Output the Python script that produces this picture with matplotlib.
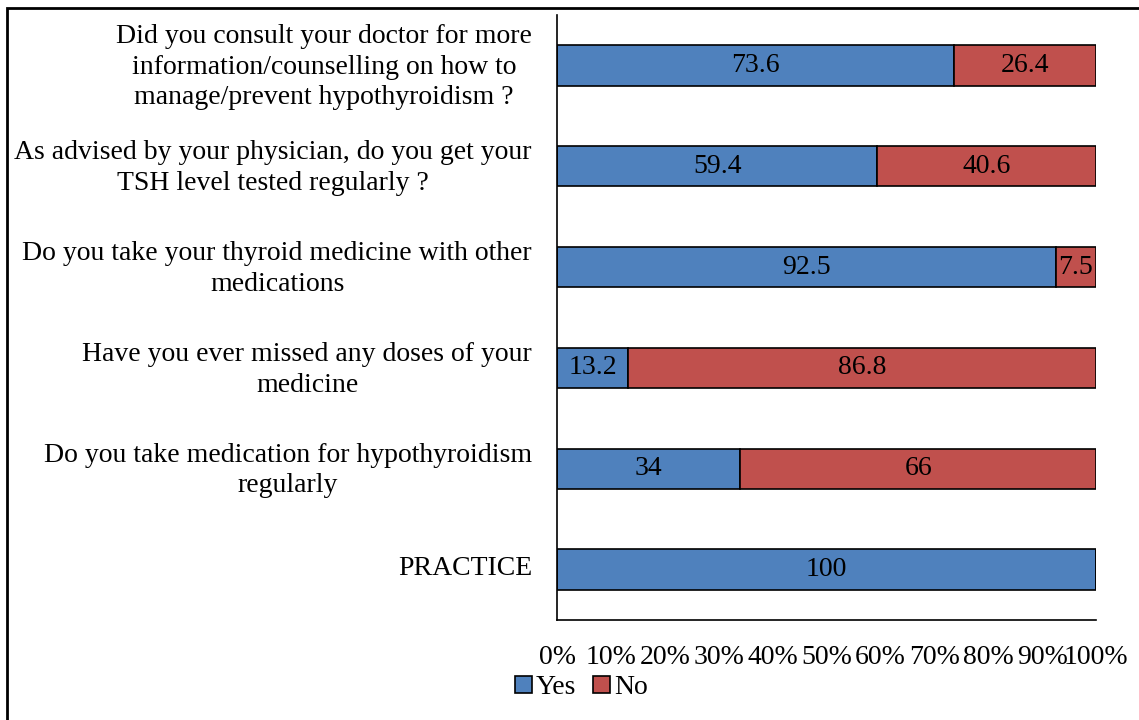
import matplotlib.pyplot as plt
from matplotlib.patches import Rectangle
from matplotlib.ticker import FuncFormatter
from matplotlib.transforms import ScaledTranslation

plt.rcParams['font.family'] = ['Liberation Serif', 'DejaVu Serif']

questions = [
    "PRACTICE",
    "Do you take medication for hypothyroidism\nregularly",
    "Have you ever missed any doses of your\nmedicine",
    "Do you take your thyroid medicine with other\nmedications",
    "As advised by your physician, do you get your\nTSH level tested regularly ?",
    "Did you consult your doctor for more\ninformation/counselling on how to\nmanage/prevent hypothyroidism ?",
]
yes = [100, 34, 13.2, 92.5, 59.4, 73.6]
no = [0, 66, 86.8, 7.5, 40.6, 26.4]

fs = 20
fig = plt.figure(figsize=(11.39, 7.2), dpi=100)
ax = fig.add_axes([557/1139, 1-620/720, (1096-557)/1139, (620-15)/720])

pos = range(len(questions))
b1 = ax.barh(pos, yes, height=0.4, color='#4F81BD', edgecolor='black', linewidth=1.2, label='Yes')
b2 = ax.barh(pos, no, left=yes, height=0.4, color='#C0504D', edgecolor='black', linewidth=1.2, label='No')

for i in pos:
    ax.text(yes[i]/2, i, f"{yes[i]:g}", ha='center', va='center', fontsize=fs)
    if no[i] > 0:
        ax.text(yes[i] + no[i]/2, i, f"{no[i]:g}", ha='center', va='center', fontsize=fs)

ax.set_xlim(0, 100)
ax.set_ylim(-0.5, 5.5)
ax.set_xticks(range(0, 101, 10))
ax.xaxis.set_major_formatter(FuncFormatter(lambda v, p: f"{v:.0f}%"))
ax.set_yticks(list(pos))
ax.set_yticklabels(questions, fontsize=fs)
ax.tick_params(axis='y', length=0, pad=18)
ax.tick_params(axis='x', length=0, pad=18, labelsize=fs)
shift = ScaledTranslation(0, 4/100, fig.dpi_scale_trans)
for lbl in ax.get_yticklabels():
    lbl.set_multialignment('center')
    lbl.set_linespacing(1.3)
    lbl.set_transform(lbl.get_transform() + shift)
ax.spines['top'].set_visible(False)
ax.spines['right'].set_visible(False)
for s in ('left', 'bottom'):
    ax.spines[s].set_linewidth(1.2)

ax.legend(handles=[b1, b2], loc='center', bbox_to_anchor=(0.045, -0.112), ncol=2,
          frameon=False, fontsize=fs, handlelength=0.6, handleheight=0.6,
          handletextpad=0.15, columnspacing=0.6, borderaxespad=0, borderpad=0)

fig.patches.append(Rectangle((7/1139, -0.1), 1.2, 1-8/720+0.1, transform=fig.transFigure,
                             fill=False, edgecolor='black', linewidth=2))

fig.savefig('out.png', dpi=100)
